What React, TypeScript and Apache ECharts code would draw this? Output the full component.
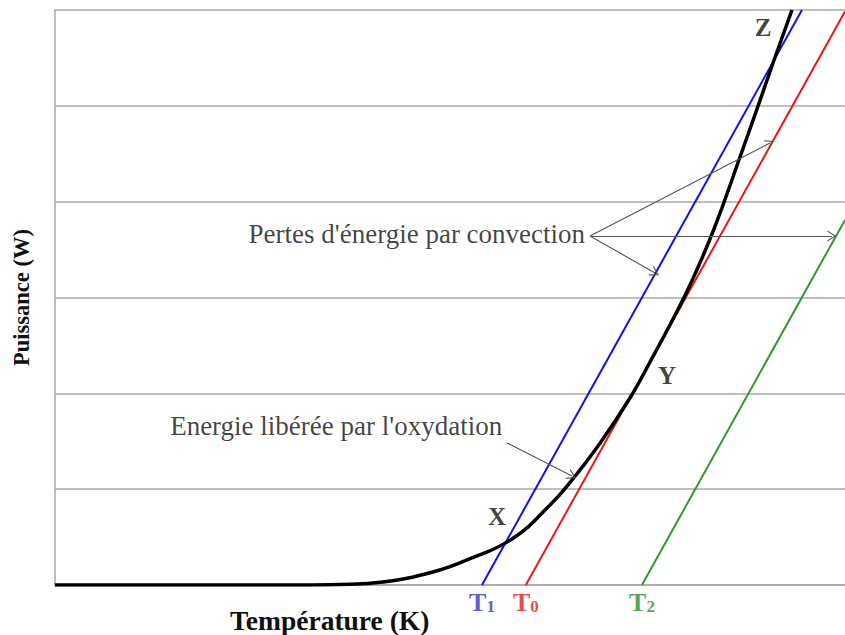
import React, { useEffect, useRef } from "react";
import * as echarts from "echarts";

// ---- data (x: temperature, arbitrary units 0..100; y: power, arbitrary units 0..6) ----
const oxidationCurve: [number, number][] = [
  [0, 0], [20, 0], [31, 0], [36.08, 0.005], [41.52, 0.031], [47.85, 0.136],
  [52.15, 0.261], [57.85, 0.48], [62.66, 0.835], [65.19, 1.07], [68.99, 1.48],
  [72.78, 1.951], [75.32, 2.327], [78.23, 2.776], [80.38, 3.13], [83.42, 3.715],
  [86.71, 4.466], [88.86, 4.967], [90.89, 5.447], [93.29, 6.0],
];
const lossT1: [number, number][] = [[54.05, 0], [94.55, 6]];
const lossT0: [number, number][] = [[59.6, 0], [100, 5.985]];
const lossT2: [number, number][] = [[74.3, 0], [100, 3.81]];

const tempMarks = [54.05, 59.6, 74.3];
const tempSubscripts = ["1", "0", "2"];
const tempColors = ["#3434c4", "#e01c1c", "#2b8a2b"];

const pointNames = ["X", "Y", "Z"];
const pointCoords: [number, number][] = [[55.95, 0.72], [77.47, 2.19], [89.62, 5.82]];

const noteTexts = ["Pertes d'énergie par convection", "Energie libérée par l'oxydation"];
const noteAnchors: [number, number][] = [[67.1, 3.66], [56.6, 1.66]];

const arrowStarts: [number, number][] = [[67.72, 3.642], [67.72, 3.642], [67.72, 3.642], [57.22, 1.482]];
const arrowEnds: [number, number][] = [[90.51, 4.612], [75.95, 3.256], [98.35, 3.642], [65.44, 1.137]];

const SERIF = "'Liberation Serif', 'Times New Roman', serif";
const CHEVRON = "path://M0,10 L5,0 L10,10 L8.8,10 L5,2.4 L1.2,10 Z";

export default function App() {
  const ref = useRef<HTMLDivElement>(null);
  useEffect(() => {
    if (!ref.current) return;
    const chart = echarts.init(ref.current, null, { renderer: "svg" });
    const rich: any = {};
    tempColors.forEach((c, i) => {
      rich["t" + i] = { color: c, fontFamily: SERIF, fontWeight: "bold", fontSize: 26 };
      rich["s" + i] = { color: c, fontFamily: SERIF, fontWeight: "bold", fontSize: 17, padding: [8, 0, 0, 0] };
    });
    chart.setOption({
      animation: false,
      backgroundColor: "#ffffff",
      grid: { left: 55, right: 0, top: 10, bottom: 50, containLabel: false, outerBoundsMode: "none" },
      xAxis: {
        type: "value", min: 0, max: 100,
        axisLine: { show: true, lineStyle: { color: "#a8a8a8", width: 1.5 } },
        axisTick: { show: false }, axisLabel: { show: false }, splitLine: { show: false },
      },
      yAxis: {
        type: "value", min: 0, max: 6, interval: 1,
        name: "Puissance (W)", nameLocation: "middle", nameGap: 22, nameRotate: 90,
        nameTextStyle: { fontFamily: SERIF, fontWeight: "bold", fontSize: 22.5, color: "#111" },
        axisLine: { show: true, lineStyle: { color: "#a8a8a8", width: 1.5 } },
        axisTick: { show: false }, axisLabel: { show: false },
        splitLine: { show: true, lineStyle: { color: "#a8a8a8", width: 1.5 } },
      },
      series: [
        { type: "line", data: lossT1, symbol: "none", lineStyle: { color: "#1010f0", width: 2 }, z: 3 },
        { type: "line", data: lossT0, symbol: "none", lineStyle: { color: "#f01414", width: 2 }, z: 3 },
        { type: "line", data: lossT2, symbol: "none", lineStyle: { color: "#2e9a2e", width: 2 }, z: 3 },
        {
          type: "line", data: oxidationCurve, symbol: "none", smooth: 0.45,
          lineStyle: { color: "#000", width: 3.5 }, z: 4,
        },
        {
          type: "line", data: [], symbol: "none",
          markLine: {
            silent: true, symbol: ["none", CHEVRON], symbolSize: [11, 9],
            label: { show: false },
            lineStyle: { color: "#555", width: 1.1, type: "solid" },
            data: arrowStarts.map((s, i) => [{ coord: s }, { coord: arrowEnds[i] }]),
          },
          z: 5,
        },
        {
          type: "scatter", symbolSize: 0, z: 6,
          data: pointCoords.map((c, i) => ({ value: c, name: pointNames[i] })),
          label: {
            show: true, position: "inside", formatter: "{b}",
            fontFamily: SERIF, fontWeight: "bold", fontSize: 25, color: "#111",
          },
        },
        {
          type: "scatter", symbolSize: 0, z: 6,
          data: noteAnchors.map((c, i) => ({ value: c, name: noteTexts[i] })),
          label: {
            show: true, position: "left", distance: 0, formatter: "{b}",
            fontFamily: SERIF, fontSize: 27, color: "#111",
          },
        },
        {
          type: "scatter", symbolSize: 0, z: 6,
          data: tempMarks.map((t, i) => ({ value: [t, 0], name: String(i) })),
          label: {
            show: true, position: "bottom", distance: 4,
            formatter: (p: any) => `{t${p.name}|T}{s${p.name}|${tempSubscripts[+p.name]}}`,
            rich,
          },
        },
      ],
      graphic: [
        {
          type: "text", left: 230, top: 606,
          style: { text: "Température (K)", fontFamily: SERIF, fontWeight: "bold", fontSize: 27.5, fill: "#111" },
        },
      ],
    });
    return () => chart.dispose();
  }, []);
  return <div ref={ref} style={{ position: "absolute", left: 0, top: 0, width: 845, height: 635 }} />;
}
